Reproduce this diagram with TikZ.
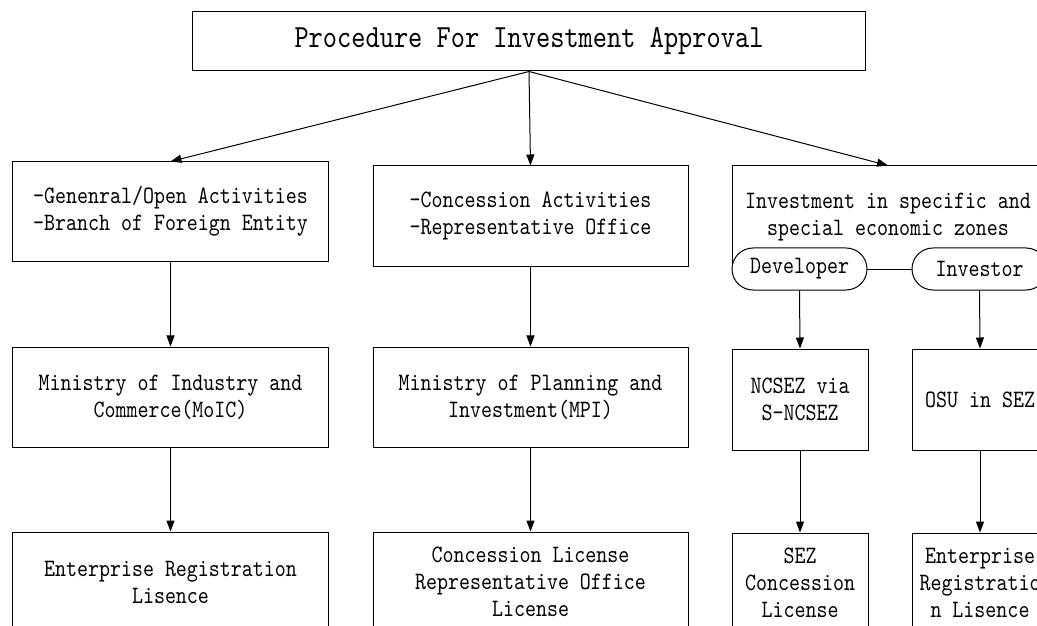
\documentclass[tikz,border=0pt]{standalone}
\usepackage{fontspec}
\newfontfamily\monoB[FakeStretch=0.838]{lmmono10-regular.otf}
\usetikzlibrary{arrows.meta}
\begin{document}
\begin{tikzpicture}[x=1bp,y=-1bp,
  box/.style={draw, line width=1bp, fill=white, inner sep=0pt, align=center,
              font=\monoB\fontsize{25bp}{27bp}\selectfont},
  pill/.style={box, rounded corners=21bp, minimum width=135bp, minimum height=42bp},
  arr/.style={-{Triangle[length=11bp,width=8bp]}, line width=1bp}]
\clip (0,0) rectangle (1037,626);
\path[fill=white] (0,0) rectangle (1037,626);
% title
\node[box, minimum width=672bp, minimum height=59bp,
      font=\monoB\fontsize{32.3bp}{35bp}\selectfont] (title) at (529,41.5)
      {Procedure For Investment Approval};
% row 1
\node[box, minimum width=315bp, minimum height=99bp] (gen) at (170.5,211.5)
      {-Genenral/Open Activities\\-Branch of Foreign Entity};
\node[box, align=left, minimum width=315bp, minimum height=100bp] (con) at (530.5,216)
      {-Concession Activities\\-Representative Office};
\node[box, minimum width=312bp, minimum height=103bp] (sez) at (888,217.5)
      {Investment in specific and\\special economic zones};
\node[pill] (dev) at (799.5,269) {Developer};
\node[pill] (inv) at (979.5,269) {Investor};
% row 2
\node[box, minimum width=315bp, minimum height=100bp] (moic) at (170.5,397)
      {Ministry of Industry and\\Commerce(MoIC)};
\node[box, minimum width=315bp, minimum height=100bp] (mpi) at (530.5,397)
      {Ministry of Planning and\\Investment(MPI)};
\node[box, minimum width=136bp, minimum height=101bp] (ncsez) at (800,399.5)
      {NCSEZ via\\S-NCSEZ};
\node[box, minimum width=136bp, minimum height=101bp] (osu) at (980,399.5)
      {OSU in SEZ};
% row 3
\node[box, minimum width=315bp, minimum height=100bp] (erl) at (170.5,582)
      {Enterprise Registration\\Lisence};
\node[box, minimum width=315bp, minimum height=100bp] (cl) at (530.5,582)
      {Concession License\\Representative Office\\License};
\node[box, minimum width=136bp, minimum height=100bp] (sezl) at (800,583)
      {SEZ\\Concession\\License};
\node[box, minimum width=136bp, minimum height=100bp] (erl2) at (980,583)
      {Enterprise\\Registratio\\n Lisence};
% connectors
\draw[arr] (title.south) -- (gen.north);
\draw[arr] (title.south) -- (con.north);
\draw[arr] (title.south) -- (sez.north);
\draw[arr] (gen.south) -- (moic.north);
\draw[arr] (con.south) -- (mpi.north);
\draw[arr] (dev.south) -- (ncsez.north);
\draw[arr] (inv.south) -- (osu.north);
\draw[arr] (moic.south) -- (erl.north);
\draw[arr] (mpi.south) -- (cl.north);
\draw[arr] (ncsez.south) -- (sezl.north);
\draw[arr] (osu.south) -- (erl2.north);
\end{tikzpicture}
\end{document}
